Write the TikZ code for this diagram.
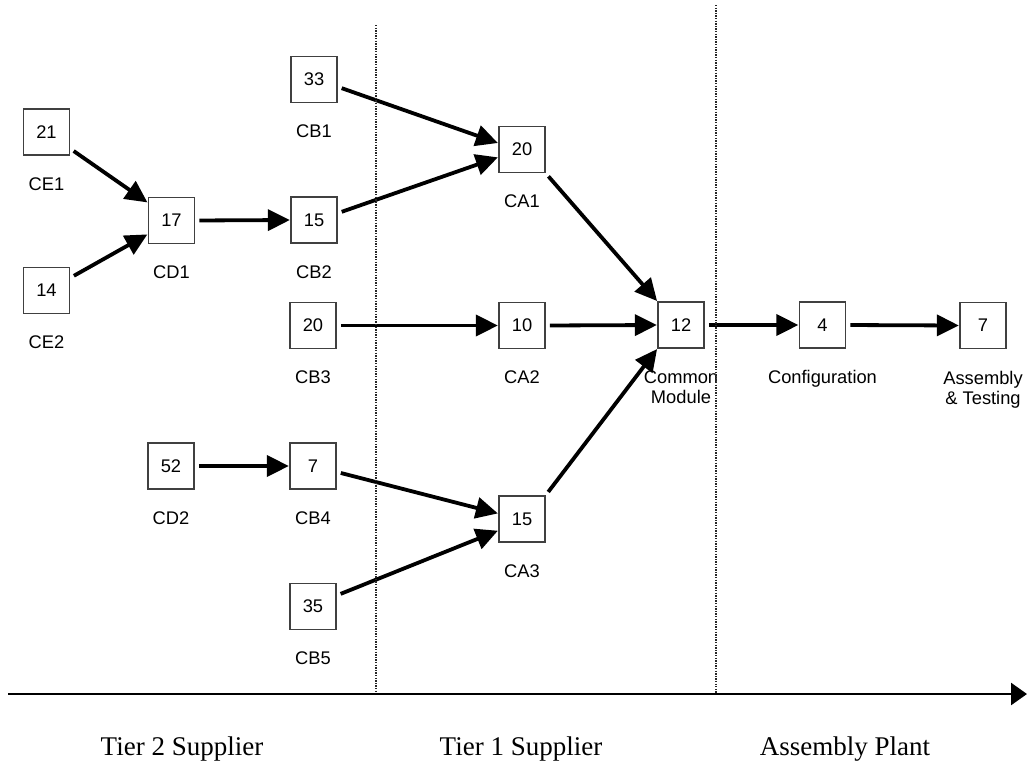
\documentclass[tikz,border=0pt]{standalone}
\usepackage{fontspec}
\setmainfont{Liberation Serif}
\setsansfont{Liberation Sans}
\usetikzlibrary{arrows.meta}

\begin{document}
\begin{tikzpicture}[x=0.5pt,y=-0.5pt,
  box/.style={draw=black!75, line width=0.55pt, minimum size=23pt, inner sep=0pt,
    font=\sffamily\fontsize{9.15}{10}\selectfont},
  lab/.style={anchor=north, inner sep=0pt, align=center,
    font=\sffamily\fontsize{9.15}{10}\selectfont},
  flow/.style={line width=1.9pt, -{Triangle[length=11pt,width=10.5pt]},
    shorten <=2.2pt, shorten >=0.3pt},
  divider/.style={line width=0.65pt, black!85, dash pattern=on 0.65pt off 0.65pt},
  timeline/.style={line width=1.3pt, -{Triangle[length=8pt,width=11pt]}},
  tier/.style={anchor=base, inner sep=0pt, font=\fontsize{13.5}{16}\selectfont}
]
\useasboundingbox (0,0) rectangle (1028,766);

% process boxes (lead times)
\node[box] (ce1) at (46.5,132)   {21};
\node[box] (ce2) at (46.5,290.5) {14};
\node[box] (cd1) at (171.5,220.5){17};
\node[box] (cd2) at (171,466)    {52};
\node[box] (cb1) at (314,79.5)   {33};
\node[box] (cb2) at (314,220)    {15};
\node[box] (cb3) at (313,325.5)  {20};
\node[box] (cb4) at (313,466)    {7};
\node[box] (cb5) at (313,606.5)  {35};
\node[box] (ca1) at (522,149.5)  {20};
\node[box] (ca2) at (522,325.5)  {10};
\node[box] (ca3) at (522,519)    {15};
\node[box] (cm)  at (681,325)    {12};
\node[box] (cfg) at (822.5,325)  {4};
\node[box] (ast) at (983,325.5)  {7};

% names under the boxes
\node[lab] (ce1l) at ([yshift=-22.5pt]ce1.center) {CE1};
\node[lab] (ce2l) at ([yshift=-22.5pt]ce2.center) {CE2};
\node[lab] (cd1l) at ([yshift=-22.5pt]cd1.center) {CD1};
\node[lab] (cd2l) at ([yshift=-22.5pt]cd2.center) {CD2};
\node[lab] (cb1l) at ([yshift=-22.5pt]cb1.center) {CB1};
\node[lab] (cb2l) at ([yshift=-22.5pt]cb2.center) {CB2};
\node[lab] (cb3l) at ([yshift=-22.5pt]cb3.center) {CB3};
\node[lab] (cb4l) at ([yshift=-22.5pt]cb4.center) {CB4};
\node[lab] (cb5l) at ([yshift=-22.5pt]cb5.center) {CB5};
\node[lab] (ca1l) at ([yshift=-22.5pt]ca1.center) {CA1};
\node[lab] (ca2l) at ([yshift=-22.5pt]ca2.center) {CA2};
\node[lab] (ca3l) at ([yshift=-22.5pt]ca3.center) {CA3};
\node[lab] (cml)  at ([yshift=-22.5pt]cm.center)  {Common\\Module};
\node[lab] (cfgl) at ([yshift=-22.5pt]cfg.center) {Configuration};
\node[lab] (astl) at ([yshift=-22.5pt]ast.center) {Assembly\\\& Testing};

% material flow
\draw[flow] (ce1.-35) -- (cd1.143);
\draw[flow] (ce2.28)  -- (cd1.210);
\draw[flow] (cd1.east) -- (cb2.west);
\draw[flow] (cd2.east) -- (cb4.west);
\draw[flow] (cb1.-17) -- (ca1.165);
\draw[flow] (cb2.16)  -- (ca1.198);
\draw[flow] (cb3.east) -- (ca2.west);
\draw[flow] (cb4.-14) -- (ca3.167);
\draw[flow] (cb5.25)  -- (ca3.206);
\draw[flow] (ca1.south east) -- (cm.north west);
\draw[flow] (ca2.east) -- (cm.west);
\draw[flow] (ca3.north east) -- (cm.south west);
\draw[flow] (cm.east) -- (cfg.west);
\draw[flow] (cfg.east) -- (ast.west);

% tier boundaries
\coordinate (d1t) at (376,25);
\coordinate (d1b) at (376,694);
\coordinate (d2t) at (716,5);
\coordinate (d2b) at (716,694);
\draw[divider] (d1t) -- (d1b);
\draw[divider] (d2t) -- (d2b);

% time axis
\coordinate (axs) at (8,694);
\coordinate (axe) at (1027,694);
\draw[timeline] (axs) -- (axe);

% tiers
\node[tier] (t2) at (182,755) {Tier 2 Supplier};
\node[tier] (t1) at (521,755) {Tier 1 Supplier};
\node[tier] (ap) at (845,755) {Assembly Plant};
\end{tikzpicture}
\end{document}
